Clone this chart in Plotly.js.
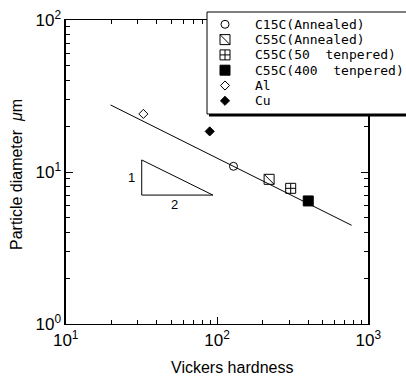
<!DOCTYPE html>
<html><head><meta charset="utf-8">
<script src="https://cdn.plot.ly/plotly-3.0.1.min.js"></script>
<style>html,body{margin:0;padding:0;background:#fff}#chart{width:406px;height:379px}</style>
</head><body><div id="chart"></div>
<script>
// ---- data ----
const seriesNames = ['C15C(Annealed)', 'C55C(Annealed)', 'C55C(50\u00a0\u00a0tenpered)', 'C55C(400\u00a0\u00a0tenpered)', 'Al', 'Cu'];
const hardness = [128.5, 221, 307, 401, 32.6, 89.5];
const diameter = [10.9, 8.95, 7.81, 6.45, 24.1, 18.5];
const fitX = [19.8, 776];
const fitY = [27.6, 4.46];
const triX = [31.8, 31.8, 94, 31.8];
const triY = [12.0, 7.05, 7.05, 12.0];
const xTickVals = [10, 100, 1000];
const xTickText = ['10<sup>1</sup>', '10<sup>2</sup>', '10<sup>3</sup>'];
const yTickVals = [1, 10, 100];
const yTickText = ['10<sup>0</sup>', '10<sup>1</sup>', '10<sup>2</sup>'];

// ---- styles ----
const symbols = ['circle-open', 'square-open', 'square-cross-open', 'square', 'diamond-open', 'diamond'];
const sizes = [8, 10, 10, 10, 7, 7];
const W = 406, H = 379;
const px = v => v / W, py = v => 1 - v / H;

const traces = [];
traces.push({x: fitX, y: fitY, mode: 'lines', line: {color: '#000', width: 1}, showlegend: false, hoverinfo: 'skip'});
traces.push({x: triX, y: triY, mode: 'lines', line: {color: '#000', width: 1}, showlegend: false, hoverinfo: 'skip'});
const legendRows = seriesNames.map((n, i) => 24.3 + 15.3 * i);
seriesNames.forEach((n, i) => {
  const mk = {symbol: symbols[i], size: sizes[i], color: '#000', line: {color: '#000', width: 1}};
  traces.push({x: [hardness[i]], y: [diameter[i]], mode: 'markers', name: n, marker: mk, showlegend: false, cliponaxis: false});
  traces.push({x: [225], y: [legendRows[i]], xaxis: 'x2', yaxis: 'y2', mode: 'markers', marker: mk, showlegend: false, cliponaxis: false});
  if (symbols[i] === 'square-open') {
    const dg = {symbol: 'line-nw-open', size: sizes[i], color: '#000', line: {color: '#000', width: 1}};
    traces.push({x: [hardness[i]], y: [diameter[i]], mode: 'markers', marker: dg, showlegend: false, cliponaxis: false});
    traces.push({x: [225], y: [legendRows[i]], xaxis: 'x2', yaxis: 'y2', mode: 'markers', marker: dg, showlegend: false, cliponaxis: false});
  }
});

const font = {family: 'Liberation Sans, Arial, sans-serif', size: 17, color: '#000'};
const axisCommon = {
  type: 'log', showline: true, linecolor: '#000', linewidth: 1.3, mirror: 'allticks',
  ticks: 'inside', ticklen: 7, tickcolor: '#000', tickwidth: 1, showgrid: false, zeroline: false,
  tickfont: font, minor: {ticks: 'inside', ticklen: 4, tickcolor: '#000', dtick: 'D1', showgrid: false}
};

const annotations = seriesNames.map((n, i) => ({
  text: n, xref: 'x2', yref: 'y2', x: 253, y: legendRows[i], xanchor: 'left', yanchor: 'middle', showarrow: false,
  font: {family: 'DejaVu Sans Mono, monospace', size: 13, color: '#000'}
}));
annotations.push({text: '1', xref: 'x', yref: 'y', x: Math.log10(27.4), y: Math.log10(9.27), xanchor: 'center', yanchor: 'middle', showarrow: false,
  font: {family: 'Liberation Sans, Arial', size: 13, color: '#000'}});
annotations.push({text: '2', xref: 'x', yref: 'y', x: Math.log10(52.7), y: Math.log10(6.07), xanchor: 'center', yanchor: 'middle', showarrow: false,
  font: {family: 'Liberation Sans, Arial', size: 13, color: '#000'}});
annotations.push({text: 'Vickers hardness', xref: 'paper', yref: 'paper', x: px(232), y: py(367), xanchor: 'center', yanchor: 'middle', showarrow: false,
  font: {family: 'Liberation Sans, Arial', size: 16, color: '#000'}});
annotations.push({text: 'Particle diameter  <i>\u03bc</i>m', xref: 'paper', yref: 'paper', x: px(17), y: py(175), xanchor: 'center', yanchor: 'middle', textangle: -90, showarrow: false,
  font: {family: 'Liberation Sans, Arial', size: 16, color: '#000'}});

const layout = {
  width: W, height: H, margin: {l: 0, r: 0, t: 0, b: 0}, paper_bgcolor: '#fff', plot_bgcolor: 'rgba(0,0,0,0)',
  showlegend: false, font: font,
  xaxis: Object.assign({}, axisCommon, {domain: [px(65.7), px(368.3)], range: [1, 3], tickvals: xTickVals, ticktext: xTickText, anchor: 'y'}),
  yaxis: Object.assign({}, axisCommon, {domain: [py(324), py(20)], range: [0, 2], tickvals: yTickVals, ticktext: yTickText, anchor: 'x'}),
  xaxis2: {domain: [px(206), 1], range: [206, 406], visible: false, anchor: 'y2', fixedrange: true},
  yaxis2: {domain: [py(118), py(11)], range: [118, 11], visible: false, anchor: 'x2', fixedrange: true},
  shapes: [
    {type: 'rect', xref: 'x2', yref: 'y2', x0: 209, x1: 420, y0: 14, y1: 116.5, fillcolor: '#000', line: {width: 0}, layer: 'below'},
    {type: 'rect', xref: 'x2', yref: 'y2', x0: 207, x1: 420, y0: 12, y1: 114, fillcolor: '#fff', line: {color: '#000', width: 1}, layer: 'below'}
  ],
  annotations: annotations
};
Plotly.newPlot('chart', traces, layout, {staticPlot: true});
</script></body></html>
